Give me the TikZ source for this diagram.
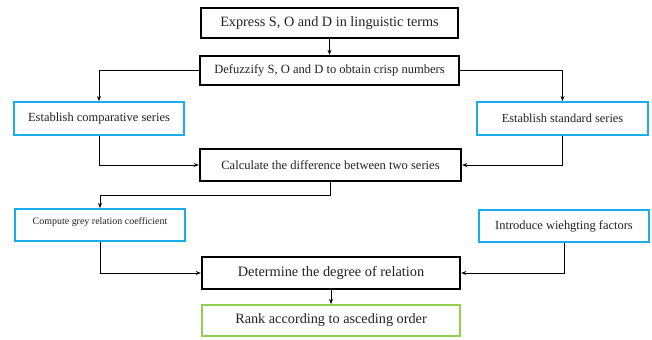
\documentclass[tikz,border=0pt]{standalone}
\usepackage{fontspec}
\setmainfont{Liberation Serif}
\usetikzlibrary{arrows.meta}
\definecolor{stepblue}{HTML}{17AEEB}
\definecolor{stepgreen}{HTML}{92D050}
\definecolor{txt}{HTML}{222222}
\tikzset{
  box/.style={draw, rectangle, inner sep=0pt, text=txt, align=center},
  mainbox/.style={box, draw=black, line width=2.4bp},
  bluebox/.style={box, draw=stepblue, line width=2bp},
  greenbox/.style={box, draw=stepgreen, line width=2bp},
  link/.style={draw=black, line width=0.9bp, -{Stealth[length=5bp,width=4bp]}},
}
\begin{document}
\begin{tikzpicture}[x=1bp, y=-1bp]
\useasboundingbox (0,0) rectangle (652,339);
\fill[white] (0,0) rectangle (652,339);

\node[mainbox, minimum width=257bp, minimum height=30bp, font=\fontsize{14.3}{16}\selectfont]
  (e1) at (329.5,23) {Express S, O and D in linguistic terms};
\node[mainbox, minimum width=259bp, minimum height=29bp, font=\fontsize{12.6}{14}\selectfont]
  (e2) at (329.5,70.5) {Defuzzify S, O and D to obtain crisp numbers};
\node[bluebox, minimum width=170bp, minimum height=33bp, font=\fontsize{12.5}{14}\selectfont]
  (e3) at (99,118.5) {Establish comparative series};
\node[bluebox, minimum width=171bp, minimum height=33bp, font=\fontsize{12.4}{14}\selectfont]
  (e4) at (562.5,118.5) {Establish standard series};
\node[mainbox, minimum width=261bp, minimum height=32bp, font=\fontsize{12.6}{14}\selectfont]
  (e5) at (330.5,165) {Calculate the difference between two series};
\node[bluebox, minimum width=170bp, minimum height=32bp]
  (e6) at (100,225) {};
\node[font=\fontsize{10}{12}\selectfont, text=txt, inner sep=0pt]
  (e6t) at (100,222.5) {Compute grey relation coefficient};
\node[bluebox, minimum width=170bp, minimum height=32bp, font=\fontsize{12.5}{14}\selectfont]
  (e7) at (564,226) {Introduce wiehgting factors};
\node[mainbox, minimum width=258bp, minimum height=32bp, font=\fontsize{14.4}{16}\selectfont]
  (e8) at (331,273) {Determine the degree of relation};
\node[greenbox, minimum width=258bp, minimum height=31bp, font=\fontsize{14.3}{16}\selectfont]
  (e9) at (331,320.5) {Rank according to asceding order};

\draw[link] (e1.south) -- (e2.north);
\draw[link] (e2.west) -| (e3.north);
\draw[link] (e2.east) -| (e4.north);
\draw[link] (e3.south) |- (e5.west);
\draw[link] (e4.south) |- (e5.east);
\draw[link] (e5.south) -- ++(0,13) -| (e6.north);
\draw[link] (e6.south) |- (e8.west);
\draw[link] (e7.south) |- (e8.east);
\draw[link] (e8.south) -- (e9.north);
\end{tikzpicture}
\end{document}
